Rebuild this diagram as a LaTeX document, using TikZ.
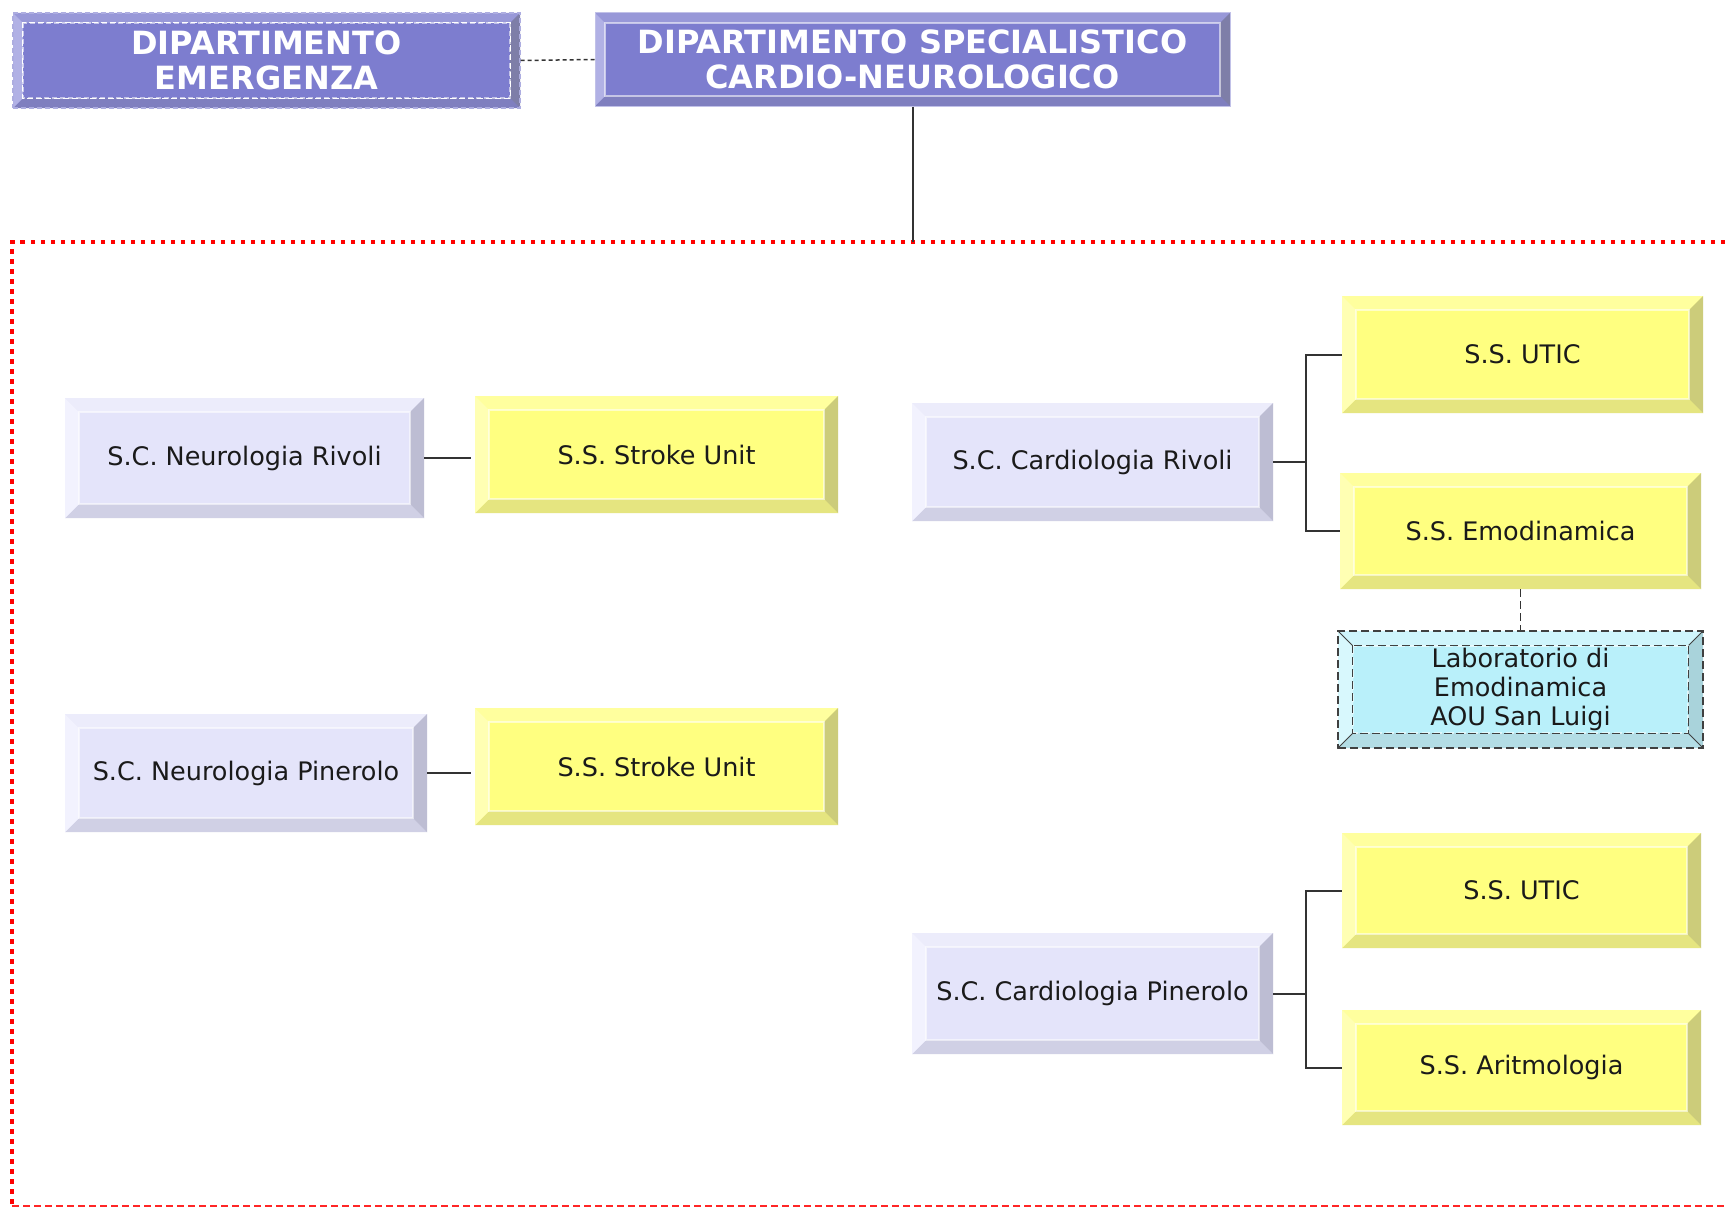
\documentclass[tikz,border=0pt]{standalone}
\usepackage{fontspec}
\setmainfont{DejaVu Sans}
\definecolor{lavC}{HTML}{E4E4FA}
\definecolor{lavT}{HTML}{ECECFB}
\definecolor{lavL}{HTML}{F2F2FE}
\definecolor{lavR}{HTML}{BDBDD3}
\definecolor{lavB}{HTML}{D0D0E5}
\definecolor{yelC}{HTML}{FFFF80}
\definecolor{yelT}{HTML}{FFFF9E}
\definecolor{yelL}{HTML}{FFFFB3}
\definecolor{yelR}{HTML}{CCCC7A}
\definecolor{yelB}{HTML}{E5E580}
\definecolor{purC}{HTML}{7D7DCF}
\definecolor{purT}{HTML}{9898D8}
\definecolor{purL}{HTML}{B1B1E5}
\definecolor{purR}{HTML}{7E7EA8}
\definecolor{purB}{HTML}{7F7FBF}
\definecolor{cyaC}{HTML}{B9F0FA}
\definecolor{cyaT}{HTML}{CFF5FC}
\definecolor{cyaL}{HTML}{D8F8FD}
\definecolor{cyaR}{HTML}{A9D3DB}
\definecolor{cyaB}{HTML}{B3DDE5}
\definecolor{txtC}{HTML}{1A1A1A}
\definecolor{lnC}{HTML}{333333}
\newcommand\boxfont{\fontsize{25.5}{28.6}\selectfont}
\newcommand\headfont{\fontsize{32}{35}\selectfont\bfseries}
\tikzset{
  bev/.style n args={6}{fill=#1, path picture={
      \coordinate (pNW) at (path picture bounding box.north west);
      \coordinate (pNE) at (path picture bounding box.north east);
      \coordinate (pSW) at (path picture bounding box.south west);
      \coordinate (pSE) at (path picture bounding box.south east);
      \fill[#2] (pNW) -- (pNE) -- ([shift={(-#6,-#6)}]pNE) -- ([shift={(#6,-#6)}]pNW) -- cycle;
      \fill[#5] (pSW) -- (pSE) -- ([shift={(-#6,#6)}]pSE) -- ([shift={(#6,#6)}]pSW) -- cycle;
      \fill[#3] (pNW) -- ([shift={(#6,-#6)}]pNW) -- ([shift={(#6,#6)}]pSW) -- (pSW) -- cycle;
      \fill[#4] (pNE) -- ([shift={(-#6,-#6)}]pNE) -- ([shift={(-#6,#6)}]pSE) -- (pSE) -- cycle;
      \draw[white, line width=1.2pt, opacity=.55] ([shift={(#6,-#6)}]pNW) rectangle ([shift={(-#6,#6)}]pSE);
    }},
  lavbox/.style={bev={lavC}{lavT}{lavL}{lavR}{lavB}{14pt}, text=txtC, font=\boxfont, inner sep=0pt},
  yelbox/.style={bev={yelC}{yelT}{yelL}{yelR}{yelB}{14pt}, text=txtC, font=\boxfont, inner sep=0pt},
  labbox/.style={bev={cyaC}{cyaT}{cyaL}{cyaR}{cyaB}{15pt}, text=txtC, font=\boxfont, inner sep=0pt, align=center,
      draw=black!75, dashed, dash pattern=on 8pt off 4pt, line width=1.3pt},
  headbox/.style={bev={purC}{purT}{purL}{purR}{purB}{10pt}, text=white, font=\headfont, inner sep=0pt, align=center},
  link/.style={draw=lnC, line width=2pt},
  dlink/.style={draw=black!80, line width=1.5pt, dash pattern=on 8pt off 4pt},
  hlink/.style={draw=black!80, line width=1.5pt, dash pattern=on 4pt off 3pt},
  redframe/.style={draw=red, line width=4.5pt, dash pattern=on 4.5pt off 5.5pt},
  redbottom/.style={draw=red!85, line width=3.5pt, dash pattern=on 7pt off 4pt},
}
\begin{document}
\begin{tikzpicture}[x=1pt,y=-1pt]
\useasboundingbox (0,0) rectangle (1725,1207);
\clip (0,0) rectangle (1725,1207);
\fill[white] (0,0) rectangle (1725,1207);

% frame
\draw[redframe] (1745,242) -- (12,242) -- (12,1206);
\draw[redbottom] (12,1206.5) -- (1745,1206.5);

% header
\node[headbox, minimum width=507pt, minimum height=95pt, draw=purT!80, dashed, dash pattern=on 5pt off 3pt, line width=1.2pt] (emerg) at (266.5,60.5) {DIPARTIMENTO\\EMERGENZA};
\draw[white, line width=1.5pt, dash pattern=on 6pt off 3pt] ([shift={(10pt,-10pt)}]emerg.north west) rectangle ([shift={(-10pt,10pt)}]emerg.south east);
\node[headbox, minimum width=635pt, minimum height=93pt, draw=purT!60, line width=1pt] (dsc) at (912.5,59.5) {DIPARTIMENTO SPECIALISTICO\\CARDIO-NEUROLOGICO};
\coordinate (frametop) at (912.5,242);

% left column
\node[lavbox, minimum width=359pt, minimum height=120pt] (nriv) at (244.5,458) {S.C. Neurologia Rivoli};
\node[yelbox, minimum width=363pt, minimum height=117pt] (su1) at (656.5,454.5) {S.S. Stroke Unit};
\node[lavbox, minimum width=362pt, minimum height=118pt] (npin) at (246,773) {S.C. Neurologia Pinerolo};
\node[yelbox, minimum width=363pt, minimum height=117pt] (su2) at (656.5,766.5) {S.S. Stroke Unit};

% right column
\node[lavbox, minimum width=361pt, minimum height=118pt] (criv) at (1092.5,462) {S.C. Cardiologia Rivoli};
\node[yelbox, minimum width=361pt, minimum height=117pt] (utic1) at (1522.5,354.5) {S.S. UTIC};
\node[yelbox, minimum width=361pt, minimum height=116pt] (emo) at (1520.5,531) {S.S. Emodinamica};
\node[labbox, minimum width=365pt, minimum height=117pt] (lab) at (1520.5,689.5) {Laboratorio di\\Emodinamica\\AOU San Luigi};
\draw[black!75, line width=1.3pt, dash pattern=on 8pt off 4pt] ([shift={(15pt,-15pt)}]lab.north west) rectangle ([shift={(-15pt,15pt)}]lab.south east);
\draw[black!75, line width=1pt] (lab.north west) -- ++(15pt,-15pt) (lab.north east) -- ++(-15pt,-15pt)
      (lab.south west) -- ++(15pt,15pt) (lab.south east) -- ++(-15pt,15pt);
\node[lavbox, minimum width=361pt, minimum height=121pt] (cpin) at (1092.5,993.5) {S.C. Cardiologia Pinerolo};
\node[yelbox, minimum width=359pt, minimum height=115pt] (utic2) at (1521.5,890.5) {S.S. UTIC};
\node[yelbox, minimum width=359pt, minimum height=115pt] (arit) at (1521.5,1067.5) {S.S. Aritmologia};

% connectors
\draw[hlink] (emerg.east) -- (dsc.west);
\draw[link] (dsc.south) -- (frametop);
\draw[link] (nriv.east) -- ([xshift=-4pt]su1.west |- nriv.east);
\draw[link] (npin.east) -- ([xshift=-4pt]su2.west |- npin.east);
\coordinate (busA) at (1306,462);
\draw[link] (criv.east) -- (busA);
\draw[link] (busA) |- (utic1.west);
\draw[link] (busA) |- (emo.west);
\coordinate (busB) at (1306,993.5);
\draw[link] (cpin.east) -- (busB);
\draw[link] (busB) |- (utic2.west);
\draw[link] (busB) |- (arit.west);
\draw[dlink] (emo.south) -- (lab.north);
\end{tikzpicture}
\end{document}
